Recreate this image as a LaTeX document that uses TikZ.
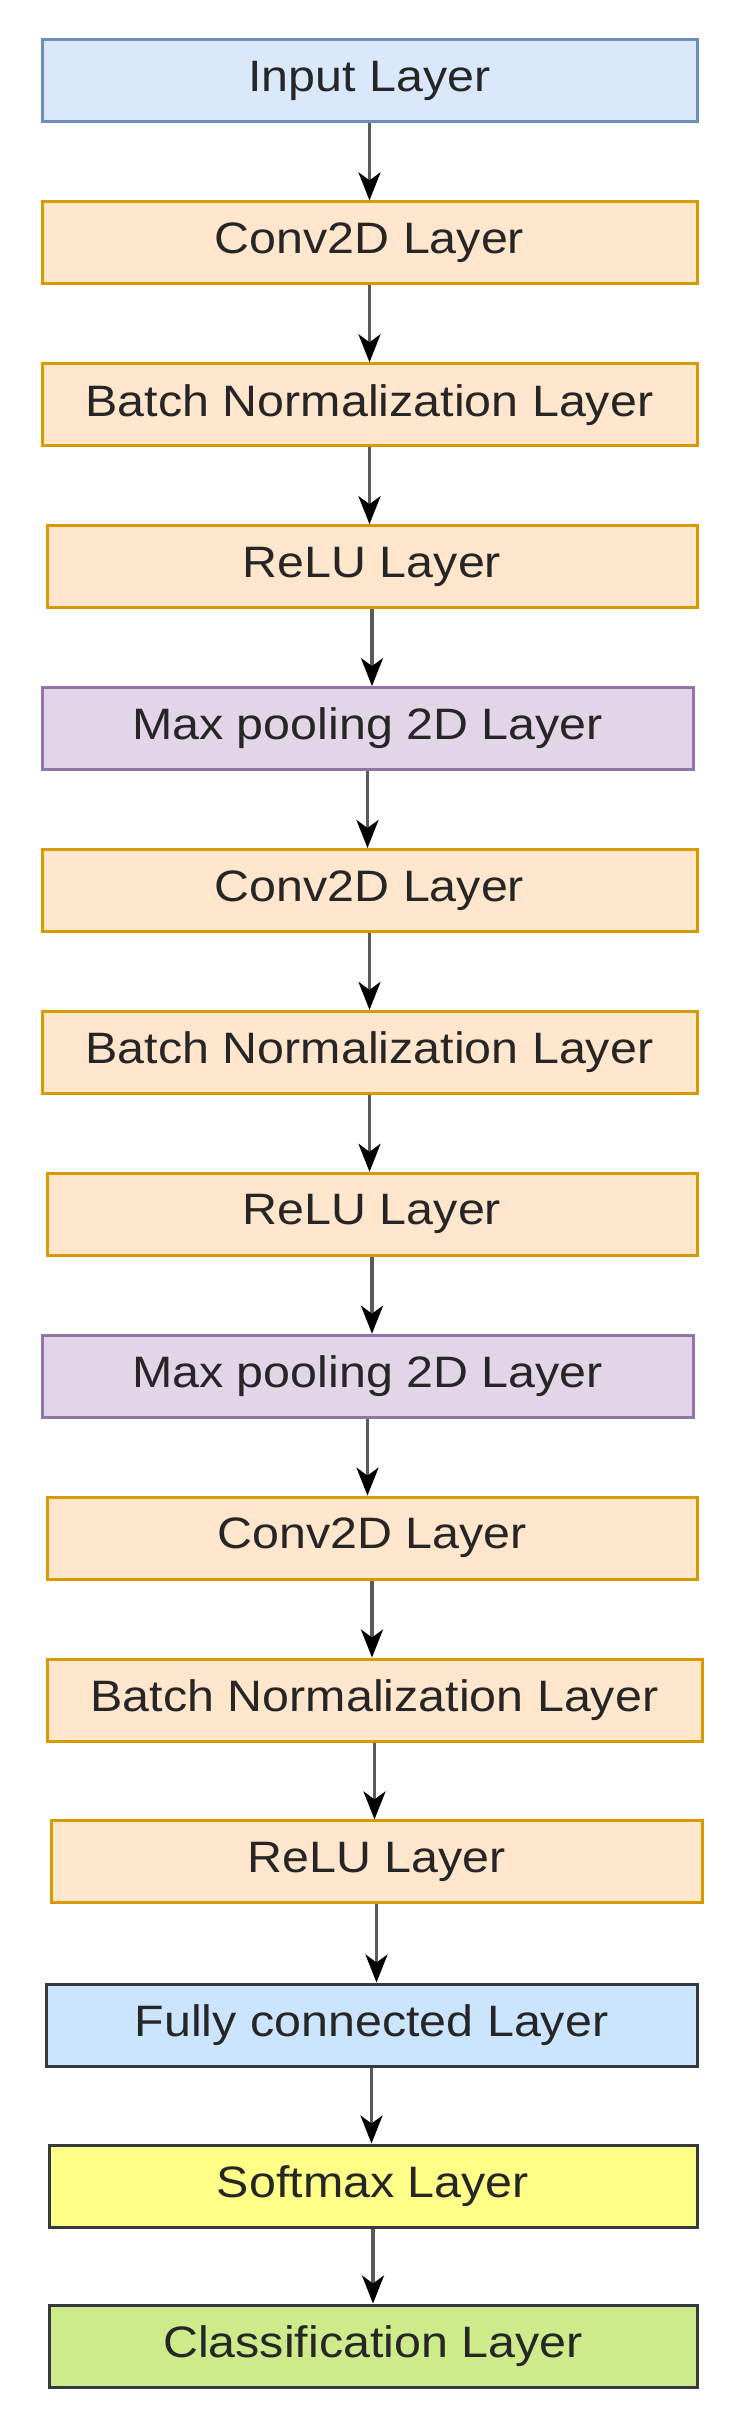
\documentclass[tikz,border=0pt]{standalone}
\usepackage{fontspec}
\setmainfont{Liberation Sans}
\usetikzlibrary{arrows.meta}
\begin{document}
\begin{tikzpicture}[x=1pt,y=1pt,
  box/.style={draw, line width=3pt, minimum height=82pt, inner sep=0pt, text=black!85},
  lbl/.style={font=\fontsize{44}{46}\selectfont, text=black!85, xscale=1.1, inner sep=0pt},
  orange/.style={box, fill={rgb,255:red,255;green,230;blue,204}, draw={rgb,255:red,215;green,155;blue,0}},
  inblue/.style={box, fill={rgb,255:red,218;green,232;blue,252}, draw={rgb,255:red,108;green,142;blue,191}},
  purple/.style={box, fill={rgb,255:red,225;green,213;blue,231}, draw={rgb,255:red,150;green,115;blue,166}},
  fcblue/.style={box, fill={rgb,255:red,204;green,229;blue,255}, draw={rgb,255:red,54;green,57;blue,61}},
  yellow/.style={box, fill={rgb,255:red,255;green,255;blue,136}, draw={rgb,255:red,54;green,57;blue,61}},
  green/.style={box, fill={rgb,255:red,205;green,235;blue,139}, draw={rgb,255:red,54;green,57;blue,61}},
  arr/.style={draw={rgb,255:red,90;green,90;blue,90}, line width=3.5pt, -{Stealth[length=28pt,width=22pt,inset=8pt,color=black]}}]
\useasboundingbox[fill=white] (0,0) rectangle (736,-2432);
\node[inblue, minimum width=655pt] (n1) at (369.5,-81) {};
\node[orange, minimum width=655pt] (n2) at (369.5,-242.9) {};
\node[orange, minimum width=655pt] (n3) at (369.5,-404.8) {};
\node[orange, minimum width=650pt] (n4) at (372,-566.7) {};
\node[purple, minimum width=651pt] (n5) at (367.5,-728.6) {};
\node[orange, minimum width=655pt] (n6) at (369.5,-890.5) {};
\node[orange, minimum width=655pt] (n7) at (369.5,-1052.4) {};
\node[orange, minimum width=650pt] (n8) at (372,-1214.3) {};
\node[purple, minimum width=651pt] (n9) at (367.5,-1376.2) {};
\node[orange, minimum width=650pt] (n10) at (372,-1538.1) {};
\node[orange, minimum width=655pt] (n11) at (374.5,-1700) {};
\node[orange, minimum width=651pt] (n12) at (376.5,-1861.9) {};
\node[fcblue, minimum width=651pt] (n13) at (371.5,-2025) {};
\node[yellow, minimum width=648pt] (n14) at (373,-2186) {};
\node[green, minimum width=648pt] (n15) at (373,-2346) {};
\foreach \i/\t in {1/Input Layer,2/Conv2D Layer,3/Batch Normalization Layer,4/ReLU Layer,5/Max pooling 2D Layer,6/Conv2D Layer,7/Batch Normalization Layer,8/ReLU Layer,9/Max pooling 2D Layer,10/Conv2D Layer,11/Batch Normalization Layer,12/ReLU Layer,13/Fully connected Layer,14/Softmax Layer,15/Classification Layer}
  \node[lbl] (t\i) at (n\i) {\t};
\foreach \a/\b in {1/2,2/3,3/4,4/5,5/6,6/7,7/8,8/9,9/10,10/11,11/12,12/13,13/14,14/15}
  \draw[arr] (n\a.south) -- (n\a.south |- n\b.north);
\end{tikzpicture}
\end{document}
